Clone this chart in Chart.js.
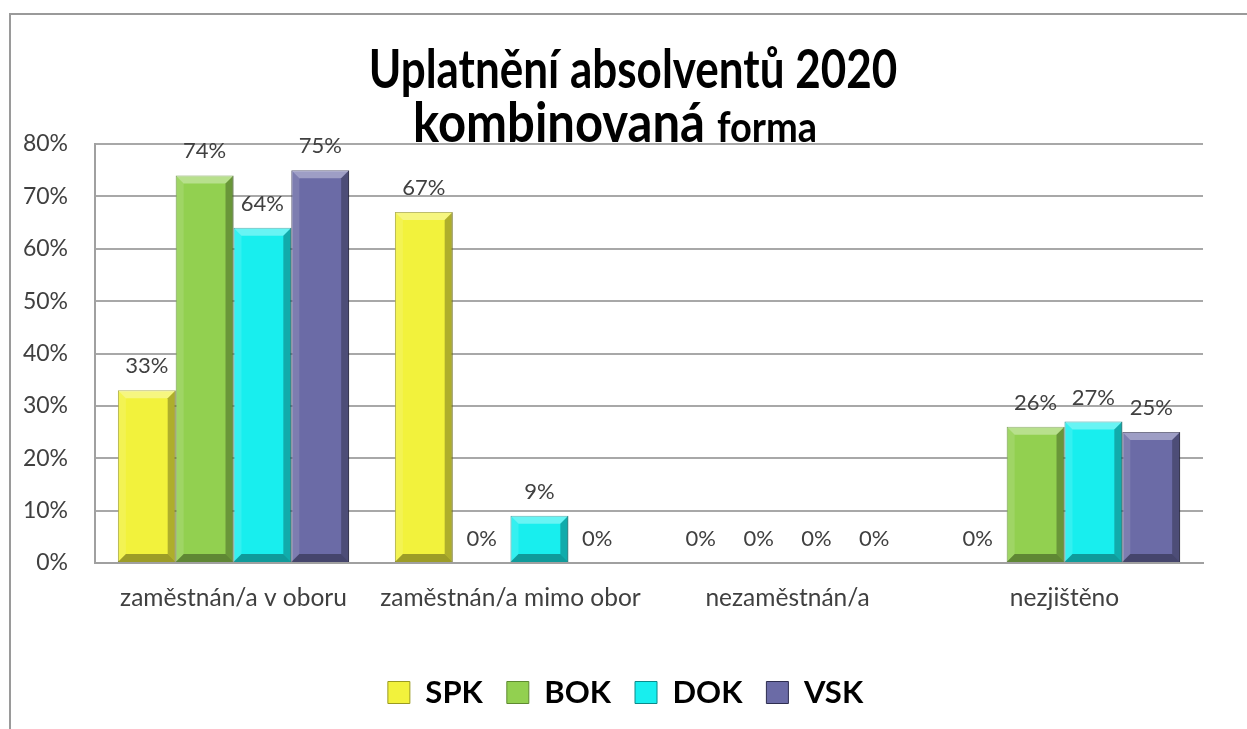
<!DOCTYPE html>
<html>
<head>
<meta charset="utf-8">
<script src="https://cdn.jsdelivr.net/npm/chart.js@4.4.0/dist/chart.umd.min.js"></script>
<style>
  html, body { margin: 0; padding: 0; background: #fff; }
  #wrap { position: relative; width: 1247px; height: 729px; }
  #frame {
    position: absolute; left: 9px; top: 13px; right: 0; bottom: 0;
    border-top: 2px solid #9a9a9a; border-left: 2px solid #9a9a9a;
  }
  canvas { position: absolute; left: 0; top: 0; }
</style>
</head>
<body>
<div id="wrap">
  <div id="frame"></div>
  <canvas id="graf" width="1247" height="729"></canvas>
</div>
<script>
// kategorie a hodnoty (v %)
const kategorie = ["zaměstnán/a v oboru", "zaměstnán/a mimo obor", "nezaměstnán/a", "nezjištěno"];
const spk = [33, 67, 0, 0];
const bok = [74, 0, 0, 26];
const dok = [64, 9, 0, 27];
const vsk = [75, 0, 0, 25];
const osaY = [0, 10, 20, 30, 40, 50, 60, 70, 80];

const PISMO = "Lato, 'Open Sans', sans-serif";

// nadpis - druhy radek ma ruzne velikosti pisma
const nadpis = {
  id: "nadpis",
  afterDraw(chart) {
    const ctx = chart.ctx;
    ctx.save();
    ctx.fillStyle = "#000";
    ctx.textBaseline = "alphabetic";
    ctx.textAlign = "center";
    ctx.font = "bold 44px " + PISMO;
    ctx.translate(633, 88);
    ctx.scale(1, 1.2);
    ctx.fillText("Uplatnění absolventů 2020", 0, 0);
    ctx.restore();

    ctx.save();
    ctx.fillStyle = "#000";
    ctx.textBaseline = "alphabetic";
    ctx.textAlign = "left";
    ctx.translate(413, 142);
    ctx.scale(1, 1.12);
    ctx.font = "bold 49px " + PISMO;
    ctx.fillText("kombinovaná", 0, 0);
    const w = ctx.measureText("kombinovaná ").width;
    ctx.font = "bold 38px " + PISMO;
    ctx.fillText("forma", w, 0);
    ctx.restore();
  }
};

// 3D zkoseni sloupcu
const zkoseni = {
  id: "zkoseni",
  afterDatasetsDraw(chart) {
    const ctx = chart.ctx;
    chart.data.datasets.forEach((ds, i) => {
      chart.getDatasetMeta(i).data.forEach(el => {
        const h = el.base - el.y;
        if (h < 2) return;
        const l = el.x - el.width / 2, r = el.x + el.width / 2;
        const t = el.y, b = el.base;
        const k = Math.min(8, h / 2);
        ctx.save();
        // horni
        ctx.fillStyle = "rgba(255,255,255,0.35)";
        ctx.beginPath();
        ctx.moveTo(l, t); ctx.lineTo(r, t); ctx.lineTo(r - k, t + k); ctx.lineTo(l + k, t + k);
        ctx.closePath(); ctx.fill();
        // levy
        ctx.fillStyle = "rgba(255,255,255,0.12)";
        ctx.beginPath();
        ctx.moveTo(l, t); ctx.lineTo(l + k, t + k); ctx.lineTo(l + k, b - k); ctx.lineTo(l, b);
        ctx.closePath(); ctx.fill();
        // pravy
        ctx.fillStyle = "rgba(0,0,0,0.28)";
        ctx.beginPath();
        ctx.moveTo(r, t); ctx.lineTo(r - k, t + k); ctx.lineTo(r - k, b - k); ctx.lineTo(r, b);
        ctx.closePath(); ctx.fill();
        // spodni
        ctx.fillStyle = "rgba(0,0,0,0.35)";
        ctx.beginPath();
        ctx.moveTo(l, b); ctx.lineTo(l + k, b - k); ctx.lineTo(r - k, b - k); ctx.lineTo(r, b);
        ctx.closePath(); ctx.fill();
        ctx.restore();
      });
    });
  }
};

// popisky hodnot nad sloupci
const popisky = {
  id: "popisky",
  afterDatasetsDraw(chart) {
    const ctx = chart.ctx;
    ctx.save();
    ctx.font = "22px " + PISMO;
    ctx.fillStyle = "#404040";
    ctx.textAlign = "center";
    ctx.textBaseline = "alphabetic";
    chart.data.datasets.forEach((ds, i) => {
      chart.getDatasetMeta(i).data.forEach((el, j) => {
        ctx.fillText(ds.data[j] + "%", el.x, el.y - 17);
      });
    });
    ctx.restore();
  }
};

// legenda je v originale vycentrovana na celou sirku
const posunLegendy = {
  id: "posunLegendy",
  afterLayout(chart) {
    chart.legend.left += 24;
    chart.legend.right += 24;
  }
};

new Chart(document.getElementById("graf"), {
  type: "bar",
  data: {
    labels: kategorie,
    datasets: [
      { label: "SPK", data: spk, backgroundColor: "#f2f23c", borderColor: "#9a9a20", borderWidth: 1 },
      { label: "BOK", data: bok, backgroundColor: "#92d050", borderColor: "#5e8a30", borderWidth: 1 },
      { label: "DOK", data: dok, backgroundColor: "#18eeee", borderColor: "#0a8a8a", borderWidth: 1 },
      { label: "VSK", data: vsk, backgroundColor: "#6b6ba6", borderColor: "#2e2e50", borderWidth: 1 }
    ]
  },
  options: {
    responsive: false,
    animation: false,
    categoryPercentage: 0.835,
    barPercentage: 1.0,
    layout: { padding: { top: 144, left: 0, right: 44, bottom: 11 } },
    plugins: {
      title: { display: false },
      tooltip: { enabled: false },
      legend: {
        position: "bottom",
        labels: {
          font: { family: PISMO, size: 31, weight: "bold" },
          color: "#000",
          boxWidth: 22,
          boxHeight: 22,
          padding: 24
        }
      }
    },
    scales: {
      x: {
        grid: { display: false, drawTicks: false },
        border: { color: "#a0a0a0", width: 2 },
        ticks: { font: { family: PISMO, size: 24.5 }, color: "#404040", padding: 20, maxRotation: 0 },
        afterFit: s => { s.height = 90; }
      },
      y: {
        min: 0,
        max: 80,
        afterBuildTicks: s => { s.ticks = osaY.map(v => ({ value: v })); },
        grid: { color: "#a8a8a8", lineWidth: 2, drawTicks: false },
        border: { color: "#a0a0a0", width: 2 },
        ticks: {
          font: { family: PISMO, size: 23 },
          color: "#404040",
          padding: 27,
          callback: v => v + "%"
        },
        afterFit: s => { s.width = 95; }
      }
    }
  },
  plugins: [nadpis, zkoseni, popisky, posunLegendy]
});
</script>
</body>
</html>
